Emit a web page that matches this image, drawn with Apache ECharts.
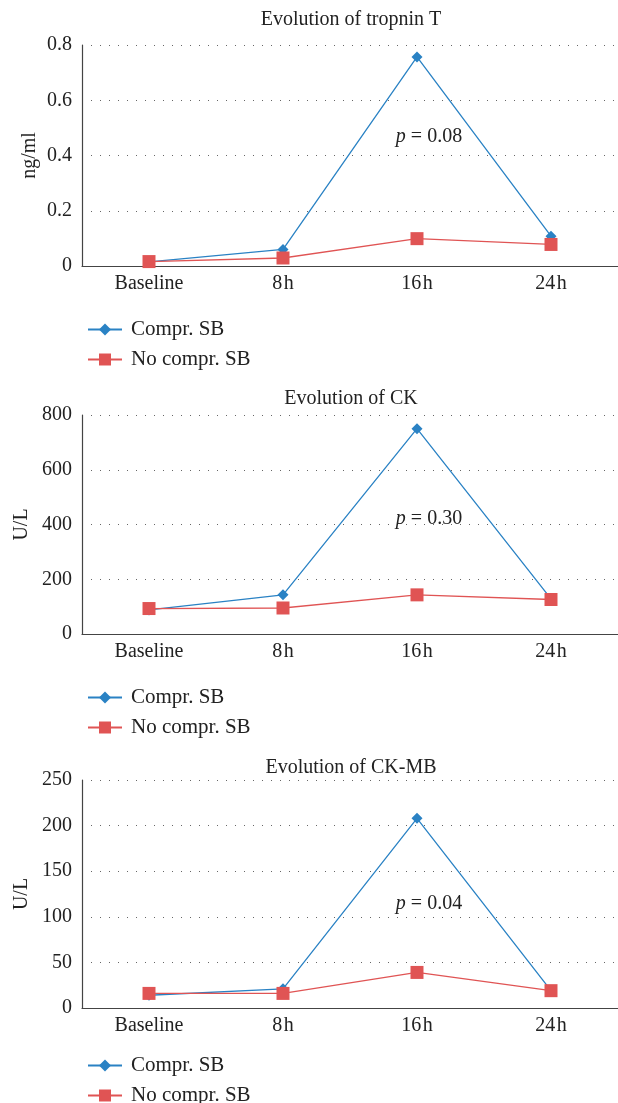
<!DOCTYPE html>
<html>
<head>
<meta charset="utf-8">
<script src="https://cdn.jsdelivr.net/npm/echarts@6/dist/echarts.min.js"></script>
<style>
  html, body { margin: 0; padding: 0; background: #fff; }
  #main { width: 618px; height: 1103px; }
</style>
</head>
<body>
<div id="main"></div>
<script>
  // data
  const categories = ['Baseline', '8h', '16h', '24h']
  const seriesNames = ['Compr. SB', 'No compr. SB']

  const tropCompr = [0.015, 0.06, 0.757, 0.108]
  const tropNoCompr = [0.016, 0.029, 0.099, 0.078]
  const ckCompr = [88, 143, 750, 128]
  const ckNoCompr = [93, 95, 143, 126]
  const ckmbCompr = [14, 21, 208, 19]
  const ckmbNoCompr = [16, 16, 39, 19]

  const titles = ['Evolution of tropnin T', 'Evolution of CK', 'Evolution of CK-MB']
  const yNames = ['ng/ml', 'U/L', 'U/L']
  const yMax = [0.8, 800, 250]
  const yStep = [0.2, 200, 50]
  const pValues = ['0.08', '0.30', '0.04']

  const font = '"Liberation Serif", "DejaVu Serif", serif'
  const fs = 20
  const blue = '#2a82c4'
  const red = '#e05454'

  // layout for each panel
  const panels = [
    { top: 45, height: 221, titleTop: 5, pTop: 122, nameGap: 42, legendTop: [314, 344] },
    { top: 415, height: 219, titleTop: 384, pTop: 504, nameGap: 50, legendTop: [682, 712] },
    { top: 780, height: 228, titleTop: 753, pTop: 889, nameGap: 50, legendTop: [1050, 1080] }
  ]
  const comprData = [tropCompr, ckCompr, ckmbCompr]
  const noComprData = [tropNoCompr, ckNoCompr, ckmbNoCompr]

  const mChart = echarts.init(document.getElementById('main'))

  const option = {
    animation: false,
    backgroundColor: '#fff',
    title: [],
    legend: [],
    grid: [],
    xAxis: [],
    yAxis: [],
    series: []
  }

  panels.forEach((p, i) => {
    option.title.push({
      text: titles[i],
      left: 346,
      top: p.titleTop,
      textAlign: 'center',
      textStyle: { fontFamily: font, fontSize: fs, fontWeight: 'normal', color: '#222' }
    })
    // p value note
    option.title.push({
      text: '{i|p} = ' + pValues[i],
      left: 424,
      top: p.pTop,
      textAlign: 'center',
      textStyle: {
        fontFamily: font, fontSize: fs, fontWeight: 'normal', color: '#222',
        rich: { i: { fontFamily: font, fontSize: fs, fontStyle: 'italic', color: '#222' } }
      }
    })
    // one legend per item so they stack like the original
    seriesNames.forEach((name, k) => {
      option.legend.push({
        data: [name],
        orient: 'vertical',
        left: 82,
        top: p.legendTop[k],
        itemWidth: 34,
        itemHeight: 15,
        textStyle: { fontFamily: font, fontSize: 21, color: '#222', padding: [0, 0, 0, 4] }
      })
    })
    option.grid.push({
      left: 82,
      top: p.top,
      width: 544,
      height: p.height,
      containLabel: false
    })
    option.xAxis.push({
      type: 'category',
      gridIndex: i,
      data: categories,
      boundaryGap: true,
      axisLine: { show: true, lineStyle: { color: '#444', width: 1.2 } },
      axisTick: { show: false },
      axisLabel: {
        fontFamily: font, fontSize: fs, color: '#222', margin: 8,
        formatter: v => v.replace(/(\d+)h/, '$1\u200ah')
      },
      splitLine: { show: false }
    })
    option.yAxis.push({
      type: 'value',
      gridIndex: i,
      min: 0,
      max: yMax[i],
      interval: yStep[i],
      name: yNames[i],
      nameLocation: 'middle',
      nameGap: p.nameGap,
      nameMoveOverlap: false,
      nameTextStyle: { fontFamily: font, fontSize: fs, color: '#222' },
      axisLine: { show: true, lineStyle: { color: '#444', width: 1.2 } },
      axisTick: { show: false },
      axisLabel: { fontFamily: font, fontSize: fs, color: '#222', margin: 10 },
      splitLine: { show: true, lineStyle: { color: '#666', width: 1, type: [1, 8] } }
    })
    option.series.push({
      name: seriesNames[0],
      type: 'line',
      xAxisIndex: i,
      yAxisIndex: i,
      data: comprData[i],
      symbol: 'diamond',
      symbolSize: 11,
      color: blue,
      lineStyle: { color: blue, width: 1.3 },
      itemStyle: { color: blue },
      z: 2
    })
    option.series.push({
      name: seriesNames[1],
      type: 'line',
      xAxisIndex: i,
      yAxisIndex: i,
      data: noComprData[i],
      symbol: 'rect',
      symbolSize: 13,
      color: red,
      lineStyle: { color: red, width: 1.3 },
      itemStyle: { color: red },
      z: 3
    })
  })

  mChart.setOption(option)
  window.addEventListener('resize', function() {
    mChart.resize()
  })
</script>
</body>
</html>
